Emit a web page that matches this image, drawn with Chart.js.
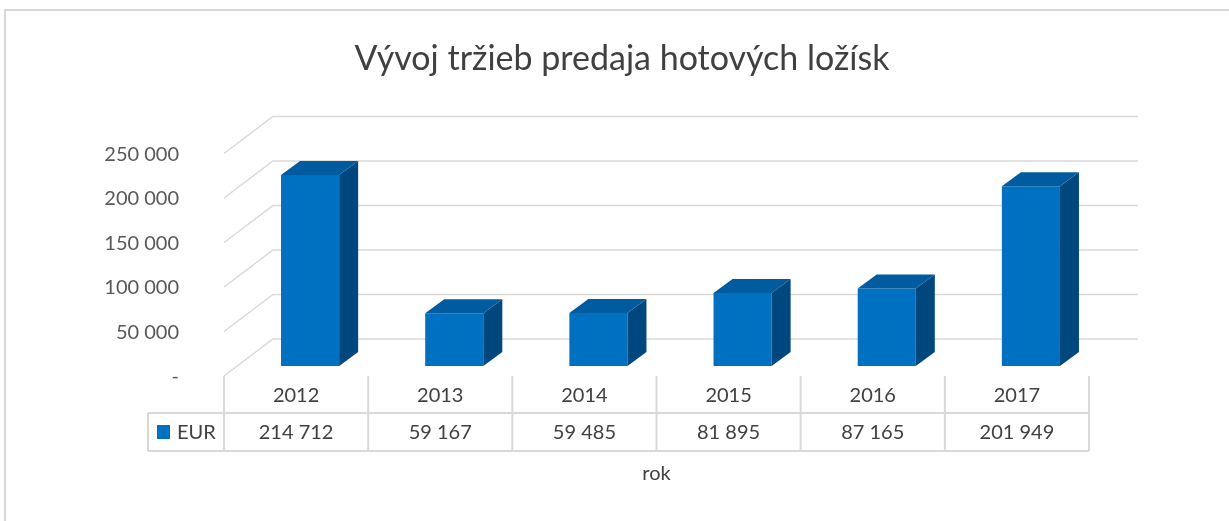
<!DOCTYPE html>
<html>
<head>
<meta charset="utf-8">
<script src="https://cdn.jsdelivr.net/npm/chart.js@4.4.1/dist/chart.umd.min.js"></script>
<style>
  body { margin: 0; background: #fff; }
  #wrap { width: 1229px; height: 521px; position: relative; }
</style>
</head>
<body>
<div id="wrap"><canvas id="chart" width="1229" height="521"></canvas></div>
<script>
const years = ['2012', '2013', '2014', '2015', '2016', '2017'];
const eurValues = [214712, 59167, 59485, 81895, 87165, 201949];
const seriesName = 'EUR';
const axisTitle = 'rok';
const chartTitle = 'Vývoj tržieb predaja hotových ložísk';
const yMax = 250000;
const yStep = 50000;

const FONT = 'Lato, "Noto Sans", sans-serif';
const GRID = '#d9d9d9';
const FRONT = '#0070c0';
const SIDE = '#00477d';
const TOP = '#005b9f';

// depth offsets relative to the bar plane
const DEPTH_X = 19, DEPTH_Y = -14;      // bar depth
const FRONT_DX = -14, FRONT_DY = 10;    // front edge of the floor
const BACK_DX = 35, BACK_DY = -27;      // back wall

function fmt(v) {
  if (v === 0) return '-';
  return String(v).replace(/\B(?=(\d{3})+(?!\d))/g, ' ');
}

const threeD = {
  id: 'threeD',
  beforeDatasetsDraw(chart) {
    const ctx = chart.ctx;
    const y = chart.scales.y;
    const a = chart.chartArea;
    ctx.save();
    ctx.strokeStyle = GRID;
    ctx.lineWidth = 1.5;
    for (let v = 0; v <= yMax; v += yStep) {
      const py = y.getPixelForValue(v);
      ctx.beginPath();
      ctx.moveTo(a.left + FRONT_DX, py + FRONT_DY);
      ctx.lineTo(a.left + BACK_DX, py + BACK_DY);
      ctx.lineTo(a.right + BACK_DX, py + BACK_DY);
      ctx.stroke();
    }
    ctx.restore();
  },
  afterDatasetsDraw(chart) {
    const ctx = chart.ctx;
    const meta = chart.getDatasetMeta(0);
    ctx.save();
    meta.data.forEach(bar => {
      const p = bar.getProps(['x', 'y', 'base', 'width'], true);
      const l = p.x - p.width / 2, r = p.x + p.width / 2;
      ctx.fillStyle = SIDE;
      ctx.beginPath();
      ctx.moveTo(r, p.y);
      ctx.lineTo(r + DEPTH_X, p.y + DEPTH_Y);
      ctx.lineTo(r + DEPTH_X, p.base + DEPTH_Y);
      ctx.lineTo(r, p.base);
      ctx.closePath();
      ctx.fill();
      ctx.fillStyle = TOP;
      ctx.beginPath();
      ctx.moveTo(l, p.y);
      ctx.lineTo(l + DEPTH_X, p.y + DEPTH_Y);
      ctx.lineTo(r + DEPTH_X, p.y + DEPTH_Y);
      ctx.lineTo(r, p.y);
      ctx.closePath();
      ctx.fill();
    });
    ctx.restore();
  },
  afterDraw(chart) {
    const ctx = chart.ctx;
    const x = chart.scales.x;
    const y = chart.scales.y;
    const top = y.getPixelForValue(0) + FRONT_DY;
    const mid = top + 37;
    const bot = mid + 38;
    const half = (x.getPixelForValue(1) - x.getPixelForValue(0)) / 2;
    const legendLeft = 148;

    ctx.save();
    // outer chart frame
    ctx.strokeStyle = GRID;
    ctx.lineWidth = 2;
    ctx.beginPath();
    ctx.moveTo(5, 521);
    ctx.lineTo(5, 10);
    ctx.lineTo(1229, 10);
    ctx.stroke();

    // title
    ctx.fillStyle = '#404040';
    ctx.font = '34px ' + FONT;
    ctx.textAlign = 'center';
    ctx.textBaseline = 'alphabetic';
    ctx.fillText(chartTitle, 622, 70);

    // data table
    ctx.beginPath();
    years.forEach((_, i) => {
      const bx = x.getPixelForValue(i) - half + FRONT_DX;
      ctx.moveTo(bx, top);
      ctx.lineTo(bx, bot);
    });
    const rx = x.getPixelForValue(years.length - 1) + half + FRONT_DX;
    ctx.moveTo(rx, top);
    ctx.lineTo(rx, bot);
    ctx.moveTo(legendLeft, mid);
    ctx.lineTo(rx, mid);
    ctx.moveTo(legendLeft, bot);
    ctx.lineTo(rx, bot);
    ctx.moveTo(legendLeft, mid);
    ctx.lineTo(legendLeft, bot);
    ctx.stroke();

    ctx.font = '20px ' + FONT;
    ctx.textBaseline = 'middle';
    years.forEach((yr, i) => {
      const cx = x.getPixelForValue(i) + FRONT_DX;
      ctx.fillText(yr, cx, (top + mid) / 2 + 1);
      ctx.fillText(fmt(eurValues[i]), cx, (mid + bot) / 2 + 1);
    });

    ctx.fillStyle = FRONT;
    ctx.fillRect(157, (mid + bot) / 2 - 7, 13, 14);
    ctx.fillStyle = '#404040';
    ctx.textAlign = 'left';
    ctx.fillText(seriesName, 177, (mid + bot) / 2 + 1);

    ctx.textAlign = 'center';
    const x0 = x.getPixelForValue(0) - half + FRONT_DX;
    ctx.fillText(axisTitle, (x0 + rx) / 2, bot + 23);
    ctx.restore();
  }
};

new Chart(document.getElementById('chart'), {
  type: 'bar',
  data: {
    labels: years,
    datasets: [{
      label: seriesName,
      data: eurValues,
      backgroundColor: FRONT,
      borderWidth: 0,
      categoryPercentage: 1,
      barPercentage: 0.403,
    }]
  },
  options: {
    responsive: false,
    animation: false,
    layout: { padding: { left: 18, right: 126, top: 143.5, bottom: 155 } },
    plugins: {
      legend: { display: false },
      tooltip: { enabled: false },
      title: { display: false },
    },
    scales: {
      x: { display: false },
      y: {
        min: 0,
        max: yMax,
        afterFit(scale) { scale.width = 220; },
        grid: { display: false, drawTicks: false },
        border: { display: false },
        ticks: {
          stepSize: yStep,
          padding: 59,
          labelOffset: 11,
          color: '#595959',
          font: { family: FONT, size: 20 },
          callback: v => fmt(v),
        },
      },
    },
  },
  plugins: [threeD],
});
</script>
</body>
</html>
